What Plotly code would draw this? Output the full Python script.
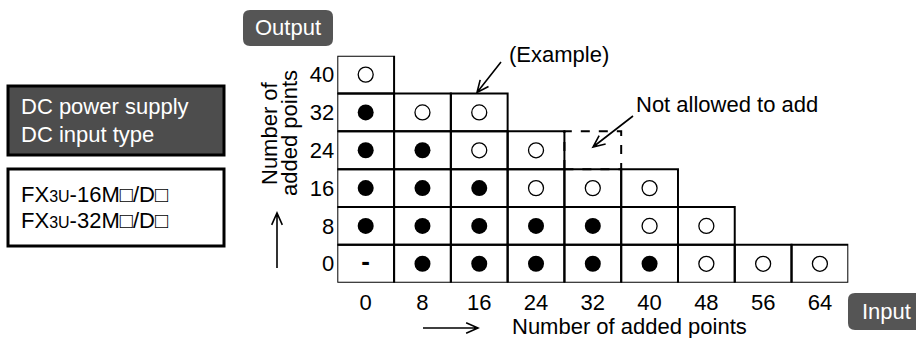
import math
import plotly.graph_objects as go

W, H = 916, 338
FONT = "Liberation Sans, Arial, sans-serif"

# ---- data: number of added input points (x) / output points (y)
inputs = [0, 8, 16, 24, 32, 40, 48, 56, 64]
outputs = [0, 8, 16, 24, 32, 40]
# F = allowed (filled), O = allowed (open), N = "-", X = not allowed (dashed cell)
marks_out0 = ["N", "F", "F", "F", "F", "F", "O", "O", "O"]
marks_out8 = ["F", "F", "F", "F", "F", "O", "O"]
marks_out16 = ["F", "F", "F", "O", "O", "O"]
marks_out24 = ["F", "F", "O", "O", "X"]
marks_out32 = ["F", "O", "O"]
marks_out40 = ["O"]
rows = [marks_out0, marks_out8, marks_out16, marks_out24, marks_out32, marks_out40]


def fx(p):
    return p / W


def fy(p):
    return 1 - p / H


fill_x, fill_y, open_x, open_y, dash_x, dash_y = [], [], [], [], [], []
shapes = []
for yv, marks in zip(outputs, rows):
    for xv, m in zip(inputs, marks):
        if m == "F":
            fill_x.append(xv); fill_y.append(yv)
        elif m == "O":
            open_x.append(xv); open_y.append(yv)
        elif m == "N":
            dash_x.append(xv); dash_y.append(yv)
        shapes.append(dict(type="rect", xref="x", yref="y",
                           x0=xv - 4, x1=xv + 4, y0=yv - 4, y1=yv + 4,
                           line=dict(color="black", width=2,
                                     dash="dash" if m == "X" else "solid"),
                           layer="below"))


def arrow(x0, y0, x1, y1, head=13, a=0.42, width=1.6):
    L = math.hypot(x1 - x0, y1 - y0)
    ux, uy = (x1 - x0) / L, (y1 - y0) / L
    c, s = math.cos(a), math.sin(a)
    lx, ly = x1 - head * (ux * c - uy * s), y1 - head * (uy * c + ux * s)
    rx, ry = x1 - head * (ux * c + uy * s), y1 - head * (uy * c - ux * s)
    p = lambda x, y: "%.5f,%.5f" % (fx(x), fy(y))
    path = "M%s L%s M%s L%s L%s" % (p(x0, y0), p(x1, y1), p(lx, ly), p(x1, y1), p(rx, ry))
    return dict(type="path", xref="paper", yref="paper", path=path,
                line=dict(color="black", width=width))


def rrect(x0, y0, x1, y1, r, color):
    p = lambda x, y: "%.5f,%.5f" % (fx(x), fy(y))
    path = ("M%s L%s Q%s %s L%s Q%s %s L%s Q%s %s L%s Q%s %s Z" % (
        p(x0 + r, y0), p(x1 - r, y0), p(x1, y0), p(x1, y0 + r),
        p(x1, y1 - r), p(x1, y1), p(x1 - r, y1),
        p(x0 + r, y1), p(x0, y1), p(x0, y1 - r),
        p(x0, y0 + r), p(x0, y0), p(x0 + r, y0)))
    return dict(type="path", xref="paper", yref="paper", path=path,
                fillcolor=color, line=dict(width=0))


def box(x0, y0, x1, y1, fill):
    return dict(type="rect", xref="paper", yref="paper",
                x0=fx(x0), x1=fx(x1), y0=fy(y1), y1=fy(y0),
                fillcolor=fill, line=dict(color="black", width=3))


shapes += [
    rrect(243, 10, 333, 46, 7, "#555555"),
    rrect(848, 293, 930, 330, 7, "#555555"),
    box(8, 86, 224, 155, "#4d4d4d"),
    box(8, 169, 224, 246, "white"),
    arrow(501, 62, 477, 92.5),
    arrow(633, 116, 593, 147),
    arrow(277, 268, 277, 213),
    arrow(423, 328, 478, 328),
]


def text(x, y, s, color="black", xanchor="left", angle=0, size=22):
    return dict(x=fx(x), y=fy(y), xref="paper", yref="paper", text=s,
                showarrow=False, xanchor=xanchor, yanchor="middle",
                textangle=angle, font=dict(family=FONT, size=size, color=color))


small = "<span style='font-size:16px'>3U</span>"
annotations = [
    text(288, 28, "Output", "white", "center"),
    text(886, 311, "Input", "white", "center"),
    text(19, 106, "DC power supply", "white"),
    text(19, 134, "DC input type", "white"),
    text(19, 194, "FX" + small + "-16M\u25a1/D\u25a1"),
    text(19, 220, "FX" + small + "-32M\u25a1/D\u25a1"),
    text(507, 54, "(Example)"),
    text(634, 104, "Not allowed to add"),
    text(510, 326, "Number of added points"),
    text(269, 133, "Number of", "black", "center", -90),
    text(289, 133, "added points", "black", "center", -90),
]

fig = go.Figure()
fig.add_trace(go.Scatter(x=fill_x, y=fill_y, mode="markers",
                         marker=dict(symbol="circle", size=16, color="black"),
                         hoverinfo="skip"))
fig.add_trace(go.Scatter(x=open_x, y=open_y, mode="markers",
                         marker=dict(symbol="circle", size=15, color="white",
                                     line=dict(color="black", width=1.3)),
                         hoverinfo="skip"))
fig.add_trace(go.Scatter(x=dash_x, y=dash_y, mode="text", text=["-"] * len(dash_x),
                         textfont=dict(family=FONT, size=26, color="black", weight="bold"),
                         hoverinfo="skip"))

fig.update_layout(
    width=W, height=H,
    margin=dict(l=0, r=0, t=0, b=0),
    paper_bgcolor="white", plot_bgcolor="white",
    showlegend=False,
    font=dict(family=FONT, size=22, color="black"),
    xaxis=dict(domain=[337.3 / W, 848.3 / W], range=[-4, 68],
               tickvals=inputs, ticks="", showline=False, showgrid=False,
               zeroline=False, fixedrange=True, ticklabelstandoff=4),
    yaxis=dict(domain=[1 - 282.7 / H, 1 - 55.7 / H], range=[-4, 44],
               tickvals=outputs, ticks="", showline=False, showgrid=False,
               zeroline=False, fixedrange=True, ticklabelstandoff=2),
    shapes=shapes,
    annotations=annotations,
)

fig.write_html("out.html", config={"displayModeBar": False},
               post_script="document.body.style.margin='0';")
